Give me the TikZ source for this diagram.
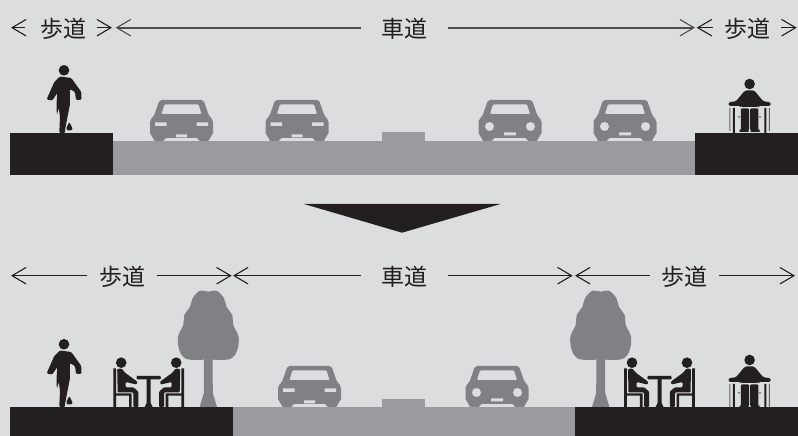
\documentclass[tikz,border=0pt]{standalone}
\usepackage{fontspec}
\usetikzlibrary{arrows.meta}
\newfontfamily\cjkfont{Noto Sans CJK JP}
\definecolor{figBg}{RGB}{220,221,222}
\definecolor{figK}{RGB}{35,31,32}
\definecolor{figRoad}{RGB}{154,155,158}
\definecolor{figG}{RGB}{128,129,132}
\tikzset{
lbl/.style={font=\cjkfont\fontsize{23}{23}\selectfont,text=figK,inner ysep=0pt,text height=20pt,text depth=0pt},
dimTop/.style={draw=figK!80,line width=1.7pt,->},
dimLow/.style={draw=figK,line width=1.2pt,->},
pics/carbody/.style={code={
\fill[figG,rounded corners=2pt] (-22,41)--(22,41)--(27.5,25)--(31.5,21)--(31.5,6)--(28,4)--(28,0)--(17,0)--(17,3)--(-17,3)--(-17,0)--(-28,0)--(-28,4)--(-31.5,6)--(-31.5,21)--(-27.5,25)--cycle;
\fill[figBg,rounded corners=1pt] (-17,36.5)--(17,36.5)--(20,27)--(-20,27)--cycle;
}},
pics/carrect/.style={code={
\pic {carbody};
\fill[figBg] (-26.5,15) rectangle (-15,18.5) (15,15) rectangle (26.5,18.5) (-5.5,3.5) rectangle (5.5,6.5);
}},
pics/carround/.style={code={
\pic {carbody};
\fill[figBg] (-20.5,14.5) circle (4.5) (20.5,14.5) circle (4.5) (-6,5.5) rectangle (6,8.5);
}},
pics/walker/.style={code={
\fill[figK] (0.7,62.7) circle (5.3);
\fill[figK,rounded corners=1.2pt] (-3.3,56.5)--(8,55)--(18,41)--(18,33)--(12.7,33)--(11.7,41)--(6.5,44)--(6.7,29)--(1.7,3)--(1.7,0)--(-4,0)--(-3.3,16)--(-4.5,25)--(-6.5,18)--(-6.7,30)--(-6,40)--(-11,32.5)--(-16.7,33.5)--(-9,51)--cycle;
\fill[figK,rounded corners=1pt] (6,11)--(9.5,4)--(8,2.5)--(4,2.5)--(3,5)--cycle;
}},
pics/wheelchair/.style={code={
\fill[figK] (0,49) circle (5.3);
\fill[figK,rounded corners=1.5pt] (-4.7,42.5)--(4.7,42.5)--(10,36)--(14,31.5)--(21,31)--(21,27)--(9,27)--(8.5,26)--(-8.5,26)--(-9,27)--(-21,27)--(-21,31)--(-14,31.5)--(-10,36)--cycle;
\fill[figK,rounded corners=1pt] (-8.8,24.5) rectangle (-0.6,3) (0.6,24.5) rectangle (8.8,3);
\fill[figK] (-10,3.5) rectangle (-1,1.2) (1,3.5) rectangle (10,1.2);
\fill[figK] (-16.7,0) rectangle (-14.7,25) (14.7,0) rectangle (16.7,25);
\fill[figK!70] (-20.2,2) rectangle (-19.2,25) (19.2,2) rectangle (20.2,25);
\fill[figK!80] (-11.5,15.5) rectangle (-9.5,16.5) (9.5,15.5) rectangle (11.5,16.5);
}},
pics/sitter/.style={code={
\fill[figK] (-27.5,44.3) circle (5.3);
\fill[figK] (-35.3,0) rectangle (-32.7,38.7) (-35.3,11.3) rectangle (-17,13.7) (-19.7,0) rectangle (-17,11.3);
\fill[figK,rounded corners=1pt] (-31.5,38)--(-27,38.5)--(-23.7,34.3)--(-11.3,25.3)--(-12,22.5)--(-23,25)--(-23,19.7)--(-15.3,19.7)--(-10.3,15.3)--(-10.3,0)--(-15.3,0)--(-15.3,14.5)--(-31,14.5)--cycle;
}},
pics/cafe/.style={code={
\pic {sitter};
\pic[xscale=-1] {sitter};
\fill[figK,rounded corners=1pt] (-12.2,27.7) rectangle (12.2,31);
\fill[figK] (-2,28)--(2,28)--(2,4)--(4,0)--(-4,0)--(-2,4)--cycle;
}},
pics/tree/.style={code={
\fill[figG] (-4.3,50)--(4.3,50)--(4.5,14)--(8.7,0)--(-8.7,0)--(-4.5,14)--cycle;
\fill[figG] plot[smooth cycle,tension=0.6] coordinates {(0,115.3) (8.3,116.3) (15.7,108.7) (18.3,100) (24,92) (25,82) (30.3,70.3) (29,57) (23.3,48.7) (11.7,47) (0,47.7) (-11.7,47) (-23.3,48.7) (-29,57) (-30.3,70.3) (-25,82) (-24,92) (-18.3,100) (-15.7,108.7) (-8.3,116.3)};
}}
}
\begin{document}
\begin{tikzpicture}[x=1pt,y=1pt,>={Straight Barb[length=14pt,width=16.5pt,line width=1.1pt]}]
\fill[figBg] (0,0) rectangle (798,436);
\useasboundingbox (0,0) rectangle (798,436);
\pic at (63.3,303) {walker};
\pic at (749.6,303) {wheelchair};
\pic at (181.5,295) {carrect};
\pic at (297,295) {carrect};
\pic at (510,295) {carround};
\pic at (625,295) {carround};
\fill[figRoad] (113,261) rectangle (695,295);
\fill[figRoad] (382,295) rectangle (425,304);
\fill[figK] (10,261) rectangle (113,303);
\fill[figK] (695,261) rectangle (798,303);
\fill[figK] (304,232)--(500.5,232)--(402,203.3)--cycle;
\node[lbl,inner xsep=10pt] (walkTL) at (63.3,408.3) {歩道};
\node[lbl,inner xsep=20pt] (roadT) at (404.5,408.3) {車道};
\node[lbl,inner xsep=11pt] (walkTR) at (747,408.3) {歩道};
\coordinate (tipTLa) at (11,408.3);
\coordinate (tipTLb) at (112,408.3);
\coordinate (tipTCa) at (115.7,408.3);
\coordinate (tipTCb) at (695,408.3);
\coordinate (tipTRa) at (696.7,408.3);
\coordinate (tipTRb) at (796.7,408.3);
\draw[dimLow,shorten <=5pt] (walkTL.west)--(tipTLa);
\draw[dimLow] (walkTL.east)--(tipTLb);
\draw[dimTop] (roadT.west)--(tipTCa);
\draw[dimTop] (roadT.east)--(tipTCb);
\draw[dimLow] (walkTR.west)--(tipTRa);
\draw[dimLow] (walkTR.east)--(tipTRb);
\pic at (63.3,29) {walker};
\pic at (148.7,29) {cafe};
\pic at (208.3,29) {tree};
\pic at (309.5,29) {carrect};
\pic at (497,29) {carround};
\pic at (600.7,29) {tree};
\pic at (659.5,29) {cafe};
\pic at (749.6,27) {wheelchair};
\fill[figRoad] (233,0) rectangle (575,29);
\fill[figRoad] (382,29) rectangle (425,37);
\fill[figK] (10,0) rectangle (233,29);
\fill[figK] (575,0) rectangle (798,29);
\node[lbl,inner xsep=11.5pt] (walkBL) at (122,160.3) {歩道};
\node[lbl,inner xsep=20pt] (roadB) at (404.5,160.3) {車道};
\node[lbl,inner xsep=11.5pt] (walkBR) at (684.5,160.3) {歩道};
\coordinate (tipBLa) at (11,160.3);
\coordinate (tipBLb) at (231.7,160.3);
\coordinate (tipBCa) at (233,160.3);
\coordinate (tipBCb) at (572.7,160.3);
\coordinate (tipBRa) at (575,160.3);
\coordinate (tipBRb) at (795,160.3);
\draw[dimLow] (walkBL.west)--(tipBLa);
\draw[dimLow] (walkBL.east)--(tipBLb);
\draw[dimLow] (roadB.west)--(tipBCa);
\draw[dimLow] (roadB.east)--(tipBCb);
\draw[dimLow] (walkBR.west)--(tipBRa);
\draw[dimLow] (walkBR.east)--(tipBRb);
\end{tikzpicture}
\end{document}
